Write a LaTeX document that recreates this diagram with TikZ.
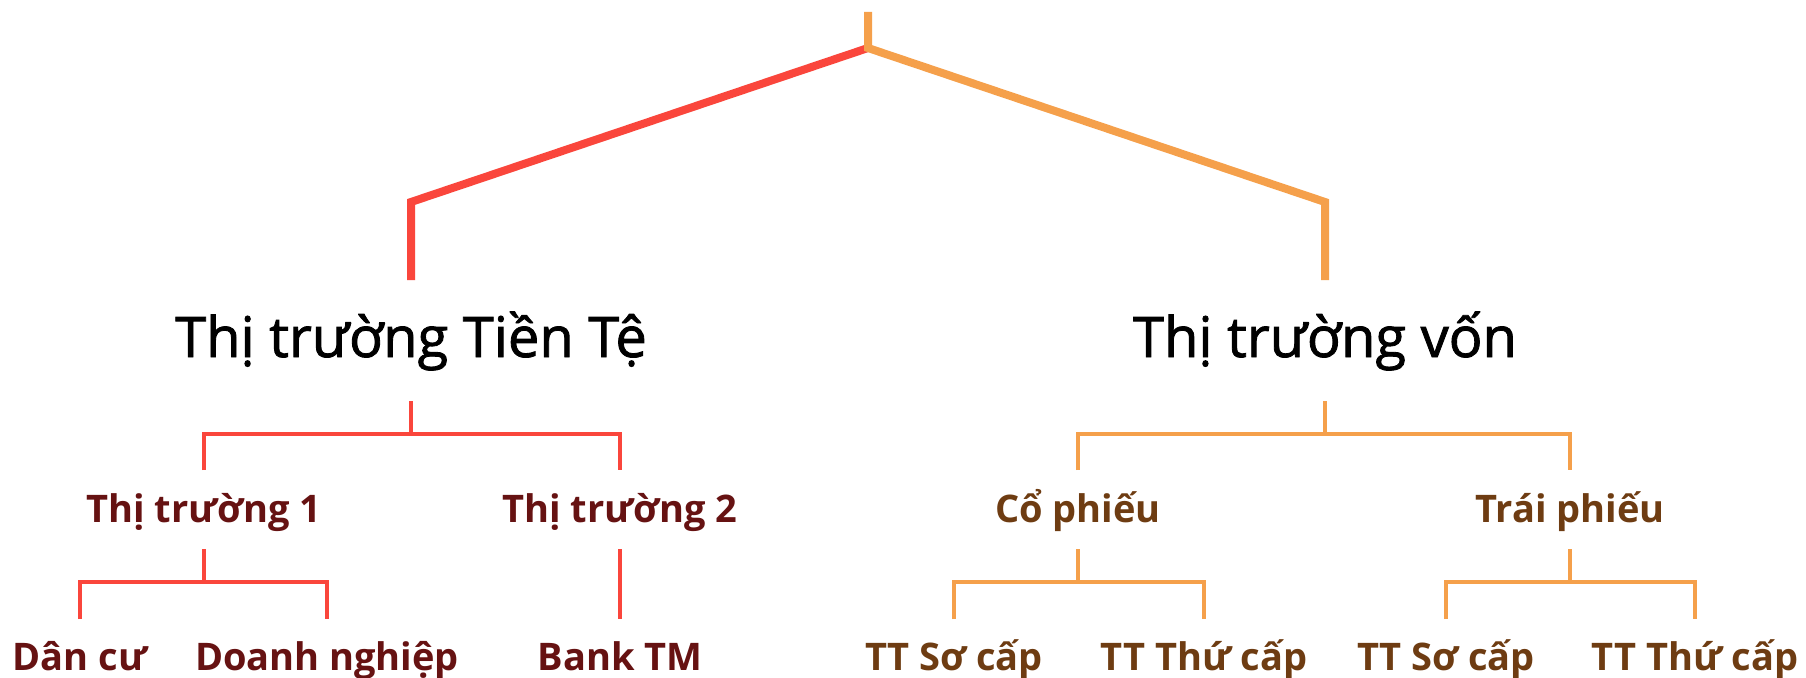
\documentclass[tikz,border=0pt]{standalone}
\usepackage{fontspec}
\setmainfont{Open Sans}
\newfontfamily\topfont[FakeBold=1.5]{Open Sans}
\usetikzlibrary{calc}
\definecolor{cred}{HTML}{FA463C}
\definecolor{cora}{HTML}{F5A04B}
\definecolor{tred}{HTML}{661212}
\definecolor{tora}{HTML}{6E3C12}
\tikzset{
  toplab/.style={anchor=base,inner sep=0pt,text=black,font=\topfont\fontsize{56}{60}\selectfont},
  midr/.style={anchor=base,inner sep=0pt,text=tred,font=\fontsize{38}{44}\selectfont\bfseries},
  mido/.style={anchor=base,inner sep=0pt,text=tora,font=\fontsize{38}{44}\selectfont\bfseries},
  thickr/.style={draw=cred,line width=8pt,line join=miter},
  thicko/.style={draw=cora,line width=8pt,line join=miter},
  thinr/.style={draw=cred,line width=4.5pt,line join=miter},
  thino/.style={draw=cora,line width=4.5pt,line join=miter}
}
\begin{document}
\begin{tikzpicture}[x=1pt,y=-1pt]
\fill[white] (0,0) rectangle (1806,677);
\useasboundingbox (0,0) rectangle (1806,677);
% nodes
\node[toplab] (tien) at (411,357) {Thị trường Tiền Tệ};
\node[toplab] (von) at (1325,357) {Thị trường vốn};
\node[midr] (tt1) at (204,522) {Thị trường 1};
\node[midr] (tt2) at (620,522) {Thị trường 2};
\node[mido] (co) at (1078,522) {Cổ phiếu};
\node[mido] (trai) at (1570,522) {Trái phiếu};
\node[midr] (dan) at (80,670) {Dân cư};
\node[midr] (dn) at (327,670) {Doanh nghiệp};
\node[midr] (bank) at (620,670) {Bank TM};
\node[mido] (so1) at (954,670) {TT Sơ cấp};
\node[mido] (thu1) at (1204,670) {TT Thứ cấp};
\node[mido] (so2) at (1446,670) {TT Sơ cấp};
\node[mido] (thu2) at (1695,670) {TT Thứ cấp};
% top connectors
\coordinate (root) at (868,12);
\coordinate (apex) at (868,48);
\draw[thickr] (apex) -- ($(tien.base)+(0,-155)$) -- ($(tien.base)+(0,-77)$);
\draw[thicko] (root) -- (apex) -- ($(von.base)+(0,-155)$) -- ($(von.base)+(0,-77)$);
% fork under Tien Te
\draw[thinr] ($(tien.base)+(0,44)$) -- ($(tien.base)+(0,77)$) coordinate (f1);
\draw[thinr] ($(tt1.base)+(0,-52)$) |- (f1) -| ($(tt2.base)+(0,-52)$);
% fork under von
\draw[thino] ($(von.base)+(0,44)$) -- ($(von.base)+(0,77)$) coordinate (f2);
\draw[thino] ($(co.base)+(0,-52)$) |- (f2) -| ($(trai.base)+(0,-52)$);
% fork under TT1
\draw[thinr] ($(tt1.base)+(0,27)$) -- ($(tt1.base)+(0,60)$) coordinate (f3);
\draw[thinr] ($(dan.base)+(0,-51)$) |- (f3) -| ($(dn.base)+(0,-51)$);
% TT2 to Bank
\draw[thinr] ($(tt2.base)+(0,27)$) -- ($(bank.base)+(0,-51)$);
% fork under Co phieu
\draw[thino] ($(co.base)+(0,27)$) -- ($(co.base)+(0,60)$) coordinate (f4);
\draw[thino] ($(so1.base)+(0,-51)$) |- (f4) -| ($(thu1.base)+(0,-51)$);
% fork under Trai phieu
\draw[thino] ($(trai.base)+(0,27)$) -- ($(trai.base)+(0,60)$) coordinate (f5);
\draw[thino] ($(so2.base)+(0,-51)$) |- (f5) -| ($(thu2.base)+(0,-51)$);
\end{tikzpicture}
\end{document}
